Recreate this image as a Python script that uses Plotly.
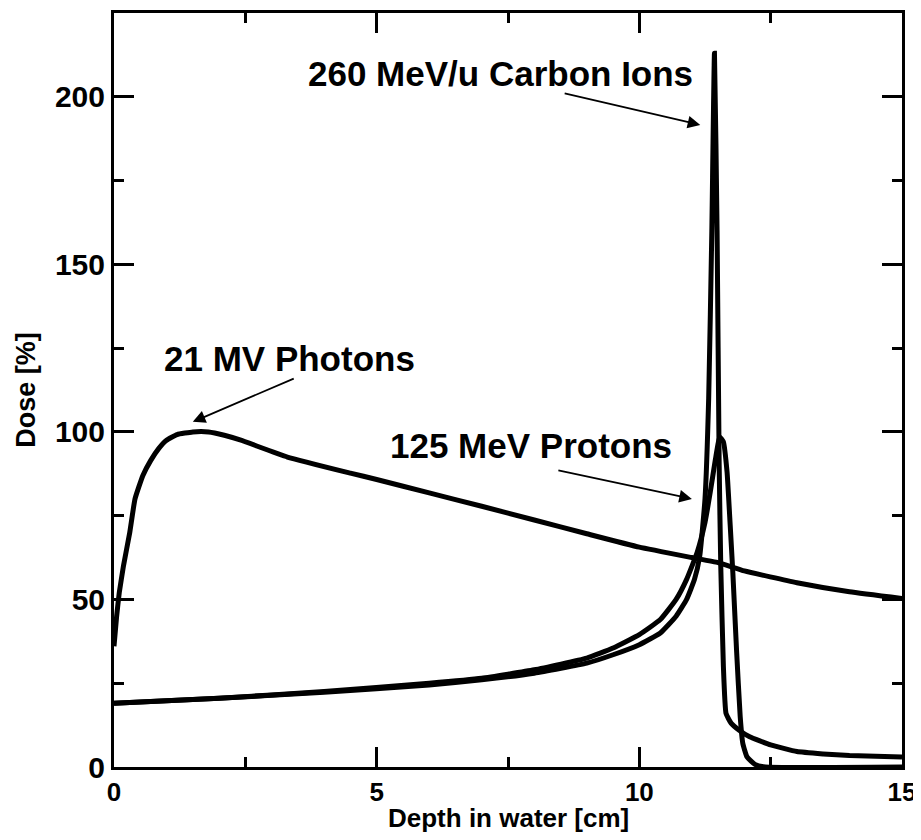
import plotly.graph_objects as go

# ---- data ----
photon_depth = [0, 0.05, 0.1, 0.18, 0.3, 0.4, 0.55, 0.7, 0.85, 1.0, 1.2, 1.5, 1.8, 2.1, 2.4, 3.3, 4.5,
                5, 6, 7, 8, 9, 10, 11, 11.5, 12, 13, 14, 15]
photon_dose = [36, 45, 52, 60, 70, 80, 87, 91.5, 95, 97.5, 99.2, 100, 100, 99, 97.6, 92.5, 87.7,
               85.8, 81.8, 77.8, 73.7, 69.6, 65.6, 62.5, 61, 58.5, 55, 52.3, 50.3]

carbon_depth = [0, 2, 4, 6, 7, 8, 9, 9.5, 10, 10.4, 10.7, 10.9, 11.05, 11.15, 11.25, 11.32,
                11.38, 11.43, 11.48, 11.52, 11.55, 11.6, 11.65, 11.75, 11.9, 12.1, 12.5,
                13, 13.5, 14, 15]
carbon_dose = [19, 20.5, 22.3, 24.5, 26, 28, 31, 33.5, 36.5, 40, 45, 50, 56, 63, 80, 110,
               160, 213, 160, 90, 60, 30, 16, 13, 11, 9, 6.6, 4.6, 3.9, 3.4, 3.0]

proton_depth = [0, 2, 4, 6, 7, 8, 9, 9.5, 10, 10.4, 10.7, 10.9, 11.1, 11.25, 11.35, 11.45,
                11.53, 11.6, 11.67, 11.73, 11.78, 11.85, 11.92, 11.97, 12.05, 12.2, 12.4, 15]
proton_dose = [19, 20.5, 22.5, 25, 26.5, 29, 32.5, 35.5, 39.5, 44, 50, 56, 64, 73, 82, 92,
               98.5, 97, 88, 72, 58, 35, 15, 7, 3, 0.8, 0, 0]

labels = ["260 MeV/u Carbon Ions", "21 MV Photons", "125 MeV Protons"]
label_x = [7.35, 3.35, 7.94]
label_y = [207, 122, 96]
arrow_tip_x = [11.16, 1.5, 11.0]
arrow_tip_y = [191.6, 103, 80]
arrow_tail_x = [8.55, 3.45, 8.43]
arrow_tail_y = [201.1, 116.1, 88.6]

x_ticks = [0, 5, 10, 15]
y_ticks = [0, 50, 100, 150, 200]
x_title = "Depth in water [cm]"
y_title = "Dose [%]"

FONT = "Liberation Sans, Arial, Helvetica, sans-serif"

fig = go.Figure()
for xs, ys in [(photon_depth, photon_dose), (carbon_depth, carbon_dose), (proton_depth, proton_dose)]:
    fig.add_trace(go.Scatter(x=xs, y=ys, mode="lines",
                             line=dict(color="black", width=5, shape="spline", smoothing=0.4),
                             showlegend=False, hoverinfo="skip"))

for t, lx, ly in zip(labels, label_x, label_y):
    fig.add_annotation(x=lx, y=ly, text="<b>%s</b>" % t, showarrow=False,
                       font=dict(family=FONT, size=35, color="black"))
for tx, ty, ax, ay in zip(arrow_tip_x, arrow_tip_y, arrow_tail_x, arrow_tail_y):
    fig.add_annotation(x=tx, y=ty, ax=ax, ay=ay, axref="x", ayref="y", text="",
                       showarrow=True, arrowhead=2, arrowsize=1.4, arrowwidth=1.8,
                       arrowcolor="black")

# x-axis title as a paper-positioned annotation
fig.add_annotation(xref="paper", yref="paper", x=0.5, y=-0.0676, yanchor="middle",
                   text="<b>%s</b>" % x_title, showarrow=False,
                   font=dict(family=FONT, size=26, color="black"))

axis_common = dict(showline=True, linecolor="black", linewidth=3, mirror="allticks",
                   ticks="inside", ticklen=20, tickwidth=2.5, tickcolor="black",
                   showgrid=False, zeroline=False, automargin=False)

fig.update_xaxes(range=[0, 15], tickvals=x_ticks, ticktext=["<b>%d</b>" % v for v in x_ticks],
                 tickfont=dict(family=FONT, size=26, color="black"),
                 minor=dict(dtick=2.5, ticks="inside", ticklen=10, tickwidth=2.5, tickcolor="black", showgrid=False),
                 **axis_common)
fig.update_yaxes(range=[0, 225], tickvals=y_ticks, ticktext=["<b>%d</b>" % v for v in y_ticks],
                 tickfont=dict(family=FONT, size=30, color="black"),
                 minor=dict(dtick=25, ticks="inside", ticklen=10, tickwidth=2.5, tickcolor="black", showgrid=False),
                 title=dict(text="<b>%s</b>" % y_title, font=dict(family=FONT, size=27, color="black"), standoff=12),
                 **axis_common)

fig.update_layout(width=913, height=824, margin=dict(l=106, r=19, t=5, b=65),
                  plot_bgcolor="white", paper_bgcolor="white")

fig.write_html("out.html")
